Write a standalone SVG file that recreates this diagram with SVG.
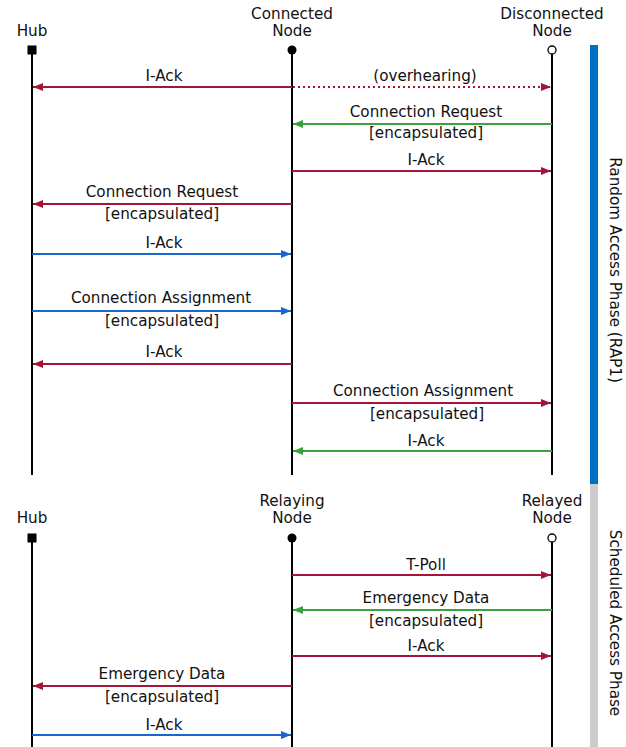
<svg xmlns="http://www.w3.org/2000/svg" width="626" height="747" viewBox="0 0 626 747">
<style>
text{font-family:"DejaVu Sans",sans-serif;font-size:15.2px;fill:#111;text-anchor:middle}
.life{stroke:#000;stroke-width:2;fill:none}
.red{stroke:#a3163a;stroke-width:2;fill:none}
.grn{stroke:#3aa23a;stroke-width:2;fill:none}
.blu{stroke:#1a66cc;stroke-width:2;fill:none}
.dot{stroke-dasharray:2 3}
</style>
<defs>
<marker id="ar" viewBox="0 0 10 8" refX="10" refY="4" markerWidth="10" markerHeight="8" markerUnits="userSpaceOnUse" orient="auto"><path d="M0,0 L10,4 L0,8 Z" fill="#a3163a"/></marker>
<marker id="ag" viewBox="0 0 10 8" refX="10" refY="4" markerWidth="10" markerHeight="8" markerUnits="userSpaceOnUse" orient="auto"><path d="M0,0 L10,4 L0,8 Z" fill="#3aa23a"/></marker>
<marker id="ab" viewBox="0 0 10 8" refX="10" refY="4" markerWidth="10" markerHeight="8" markerUnits="userSpaceOnUse" orient="auto"><path d="M0,0 L10,4 L0,8 Z" fill="#1a66cc"/></marker>
</defs>
<rect x="590" y="45" width="8" height="439" fill="#0070c0"/>
<rect x="590" y="484" width="8" height="263" fill="#cccccc"/>
<text transform="translate(615,270) rotate(90)" dy="5">Random Access Phase (RAP1)</text>
<text transform="translate(615,623) rotate(90)" dy="5">Scheduled Access Phase</text>

<g id="hub1"><text x="32" y="36">Hub</text><line class="life" x1="32" y1="50" x2="32" y2="475"/><rect x="27.5" y="45.5" width="9" height="9" fill="#000"/></g>
<g id="connected"><text x="292" y="19">Connected</text><text x="292" y="36">Node</text><line class="life" x1="292" y1="50" x2="292" y2="475"/><circle cx="292" cy="50" r="4.5" fill="#000"/></g>
<g id="disconnected"><text x="552" y="19">Disconnected</text><text x="552" y="36">Node</text><line class="life" x1="552" y1="54" x2="552" y2="475"/><circle cx="552" cy="50" r="4" fill="#fff" stroke="#000" stroke-width="1.3"/></g>

<g id="hub2"><text x="32" y="523">Hub</text><line class="life" x1="32" y1="538" x2="32" y2="747"/><rect x="27.5" y="533.5" width="9" height="9" fill="#000"/></g>
<g id="relaying"><text x="292" y="506">Relaying</text><text x="292" y="523">Node</text><line class="life" x1="292" y1="538" x2="292" y2="747"/><circle cx="292" cy="538" r="4.5" fill="#000"/></g>
<g id="relayed"><text x="552" y="506">Relayed</text><text x="552" y="523">Node</text><line class="life" x1="552" y1="542" x2="552" y2="747"/><circle cx="552" cy="538" r="4" fill="#fff" stroke="#000" stroke-width="1.3"/></g>

<g id="connectors">
<line class="red" x1="292" y1="87" x2="33" y2="87" marker-end="url(#ar)"/><text x="164" y="81">I-Ack</text>
<line class="red dot" x1="293" y1="87" x2="551" y2="87" marker-end="url(#ar)"/><text x="425" y="81">(overhearing)</text>
<line class="grn" x1="552" y1="124" x2="293" y2="124" marker-end="url(#ag)"/><text x="426" y="117">Connection Request</text><text x="426" y="138">[encapsulated]</text>
<line class="red" x1="292" y1="171" x2="551" y2="171" marker-end="url(#ar)"/><text x="426" y="165">I-Ack</text>
<line class="red" x1="292" y1="204" x2="33" y2="204" marker-end="url(#ar)"/><text x="162" y="197">Connection Request</text><text x="162" y="219">[encapsulated]</text>
<line class="blu" x1="32" y1="254" x2="291" y2="254" marker-end="url(#ab)"/><text x="164" y="248">I-Ack</text>
<line class="blu" x1="32" y1="311" x2="291" y2="311" marker-end="url(#ab)"/><text x="161" y="303">Connection Assignment</text><text x="162" y="326">[encapsulated]</text>
<line class="red" x1="292" y1="364" x2="33" y2="364" marker-end="url(#ar)"/><text x="164" y="357">I-Ack</text>
<line class="red" x1="292" y1="403" x2="551" y2="403" marker-end="url(#ar)"/><text x="423" y="396">Connection Assignment</text><text x="427" y="419">[encapsulated]</text>
<line class="grn" x1="552" y1="451" x2="293" y2="451" marker-end="url(#ag)"/><text x="426" y="446">I-Ack</text>

<line class="red" x1="292" y1="575" x2="551" y2="575" marker-end="url(#ar)"/><text x="426" y="570">T-Poll</text>
<line class="grn" x1="552" y1="610" x2="293" y2="610" marker-end="url(#ag)"/><text x="426" y="603">Emergency Data</text><text x="426" y="626">[encapsulated]</text>
<line class="red" x1="292" y1="656" x2="551" y2="656" marker-end="url(#ar)"/><text x="426" y="651">I-Ack</text>
<line class="red" x1="292" y1="686" x2="33" y2="686" marker-end="url(#ar)"/><text x="162" y="679">Emergency Data</text><text x="162" y="702">[encapsulated]</text>
<line class="blu" x1="32" y1="735" x2="291" y2="735" marker-end="url(#ab)"/><text x="164" y="730">I-Ack</text>
</g>
</svg>
